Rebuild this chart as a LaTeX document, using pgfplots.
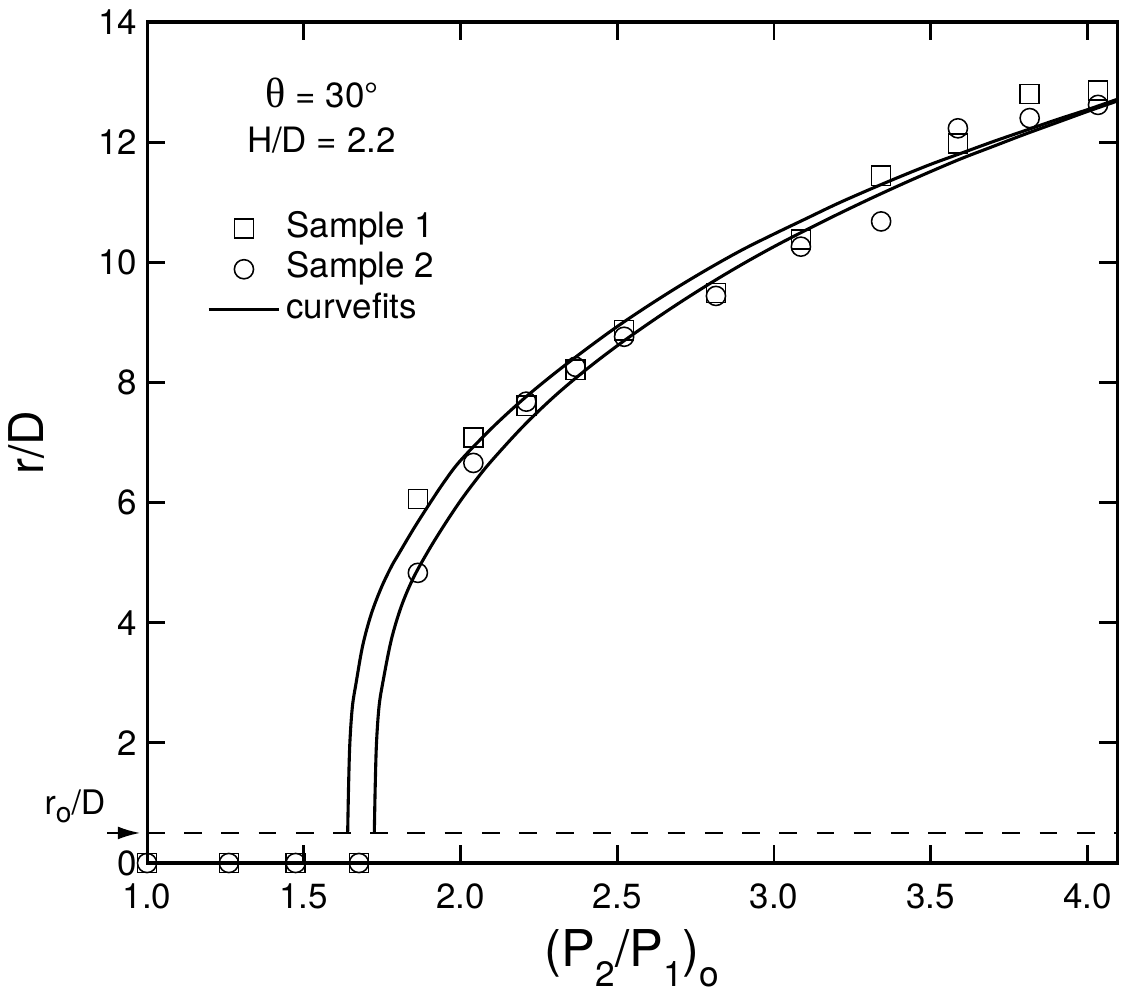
\documentclass[border=0pt]{standalone}
\usepackage{pgfplots}
\pgfplotsset{compat=1.18}
\usepackage{fontspec}
\setmainfont{TeX Gyre Heros}
\newfontfamily\symfont{Liberation Serif}
\usetikzlibrary{arrows.meta}

\pgfplotsset{
    lineleg/.style={legend image code/.code={\draw[##1] (0pt,0pt) -- (25pt,0pt);}},
    markleg/.style={legend image code/.code={\draw[##1] plot coordinates {(12.5pt,0pt)};}},
}
\newcommand{\sub}[1]{\raisebox{-0.75ex}{\fontsize{12.5}{12.5}\selectfont #1}}

% curve fits
\pgfplotstableread{
x y
1.640 0.50
1.643 1.30
1.647 2.00
1.655 2.60
1.667 3.00
1.688 3.62
1.715 4.14
1.747 4.58
1.779 4.93
1.800 5.12
1.850 5.56
1.900 5.97
1.950 6.36
2.000 6.70
2.100 7.24
2.200 7.72
2.300 8.15
2.400 8.55
2.500 8.93
2.600 9.28
2.700 9.61
2.800 9.92
2.900 10.21
3.000 10.47
3.100 10.72
3.200 10.97
3.300 11.20
3.400 11.42
3.500 11.63
3.600 11.82
3.700 12.01
3.800 12.19
3.900 12.37
4.000 12.54
4.110 12.74
}\fitone
\pgfplotstableread{
x y
1.725 0.50
1.728 1.30
1.732 2.00
1.740 2.60
1.752 3.00
1.779 3.71
1.811 4.27
1.850 4.75
1.900 5.22
1.950 5.64
2.000 6.03
2.050 6.38
2.100 6.70
2.200 7.27
2.300 7.77
2.400 8.21
2.500 8.61
2.600 8.98
2.700 9.33
2.800 9.66
2.900 9.97
3.000 10.26
3.100 10.53
3.200 10.79
3.300 11.04
3.400 11.28
3.500 11.51
3.600 11.73
3.700 11.93
3.800 12.13
3.900 12.32
4.000 12.51
4.110 12.71
}\fittwo

\begin{document}
\begin{tikzpicture}
\begin{axis}[
    scale only axis,
    width=344.3pt, height=298.5pt,
    xmin=1.0, xmax=4.095, ymin=0, ymax=14,
    xtick={1.0,1.5,2.0,2.5,3.0,3.5,4.0},
    ytick={0,2,4,6,8,10,12,14},
    tick align=inside,
    major tick length=6.5pt,
    tick style={line width=1pt, black},
    axis line style={line width=1.1pt},
    /pgf/number format/assume math mode=true,
    xticklabel style={/pgf/number format/fixed, /pgf/number format/fixed zerofill,
        /pgf/number format/precision=1, yshift=-4pt},
    every tick label/.append style={font=\fontsize{12.4}{14}\selectfont},
    xlabel={(P\sub{2}/P\sub{1})\sub{o}},
    ylabel={r/D},
    every axis x label/.style={at={(axis description cs:0.5,-0.113)}, anchor=center,
        font=\fontsize{18}{20}\selectfont},
    every axis y label/.style={at={(axis description cs:-0.124,0.5)}, rotate=90, anchor=center,
        font=\fontsize{17}{19}\selectfont},
    clip mode=individual,
    legend cell align=left,
    legend style={at={(axis cs:1.19,10.85)}, anchor=north west, draw=none, fill=none,
        font=\fontsize{12.4}{14}\selectfont, inner sep=0pt, row sep=2.4pt,
        nodes={inner ysep=0pt, text height=9pt, text depth=3pt}},
    lineleg,
]
\addplot[only marks, mark=square, mark size=3.4pt, mark options={line width=0.55pt}, markleg]
coordinates {
    (1.0,0) (1.261,0) (1.474,0) (1.676,0) (1.864,6.06) (2.041,7.08) (2.210,7.61)
    (2.367,8.21) (2.522,8.87) (2.815,9.49) (3.086,10.38) (3.342,11.44)
    (3.587,11.98) (3.816,12.80) (4.034,12.86)
};
\addlegendentry{Sample 1}
\addplot[only marks, mark=o, mark size=3.4pt, mark options={line width=0.55pt}, markleg]
coordinates {
    (1.0,0) (1.261,0) (1.474,0) (1.676,0) (1.864,4.83) (2.041,6.66) (2.210,7.68)
    (2.367,8.26) (2.522,8.76) (2.815,9.44) (3.086,10.26) (3.342,10.68)
    (3.587,12.23) (3.816,12.40) (4.034,12.62)
};
\addlegendentry{Sample 2}
\addplot[black, line width=1.1pt, smooth, tension=0.55] table {\fitone};
\addlegendentry{curvefits}
\addplot[black, line width=1.1pt, smooth, tension=0.55, forget plot] table {\fittwo};
\addplot[black, line width=0.9pt, dash pattern=on 6.3pt off 6.9pt, forget plot]
    coordinates {(1.0,0.5) (4.095,0.5)};

\node[font=\fontsize{12.4}{14}\selectfont] at (axis cs:1.559,12.82)
    {{\symfont\fontsize{15}{15}\selectfont θ} = 30°};
\node[font=\fontsize{12.4}{14}\selectfont] at (axis cs:1.556,12.04) {H/D = 2.2};
\node[anchor=base east, font=\fontsize{12}{13}\selectfont, inner sep=0pt]
    at ([xshift=-14.6pt]axis cs:1.0,0.80) {r\raisebox{-0.45ex}{\fontsize{10}{10}\selectfont o}/D};
\draw[-{Latex[length=8pt,width=4.6pt]}, line width=0.8pt]
    ([xshift=-14.2pt]axis cs:1.0,0.5) -- ([xshift=-2.4pt]axis cs:1.0,0.5);
\end{axis}
\path (current axis.south west) ++(-52.2pt,-45.4pt) coordinate (bl);
\path (current axis.north east) ++(3.5pt,7.8pt) coordinate (tr);
\pgfresetboundingbox
\path[use as bounding box] (bl) rectangle (tr);
\end{tikzpicture}
\end{document}
